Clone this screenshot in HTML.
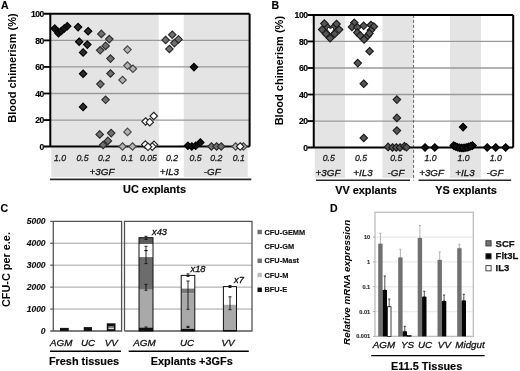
<!DOCTYPE html>
<html><head><meta charset="utf-8"><style>
html,body{margin:0;padding:0;background:#fff;}
svg{display:block;font-family:"Liberation Sans",sans-serif;will-change:transform;}
</style></head><body>
<svg width="520" height="371" viewBox="0 0 520 371">
<rect width="520" height="371" fill="#fff"/>
<rect x="50.3" y="13.85" width="199.3" height="132.75" fill="#e4e4e4"/>
<rect x="158.75" y="13.85" width="25" height="132.75" fill="#fff"/>
<rect x="51.3" y="147.5" width="196.4" height="29.5" fill="#e4e4e4"/>
<rect x="158.75" y="147.5" width="25" height="29.5" fill="#fff"/>
<line x1="50.3" y1="120.05" x2="249.6" y2="120.05" stroke="#9a9a9a" stroke-width="1.3"/>
<line x1="50.3" y1="93.50" x2="249.6" y2="93.50" stroke="#9a9a9a" stroke-width="1.3"/>
<line x1="50.3" y1="66.95" x2="249.6" y2="66.95" stroke="#9a9a9a" stroke-width="1.3"/>
<line x1="50.3" y1="40.40" x2="249.6" y2="40.40" stroke="#9a9a9a" stroke-width="1.3"/>
<path d="M44 13.85H249.6M50.3 13.85V146.6M44 146.6H249.6M249.6 13.85V146.6" stroke="#000" stroke-width="2" fill="none"/>
<line x1="44" y1="120.05" x2="50.3" y2="120.05" stroke="#000" stroke-width="1.8"/>
<line x1="44" y1="93.50" x2="50.3" y2="93.50" stroke="#000" stroke-width="1.8"/>
<line x1="44" y1="66.95" x2="50.3" y2="66.95" stroke="#000" stroke-width="1.8"/>
<line x1="44" y1="40.40" x2="50.3" y2="40.40" stroke="#000" stroke-width="1.8"/>
<path d="M54.80 24.85L58.55 28.60L54.80 32.35L51.05 28.60Z" fill="#111" stroke="#000" stroke-width="1.1"/>
<path d="M58.50 29.45L62.25 33.20L58.50 36.95L54.75 33.20Z" fill="#111" stroke="#000" stroke-width="1.1"/>
<path d="M61.30 27.25L65.05 31.00L61.30 34.75L57.55 31.00Z" fill="#111" stroke="#000" stroke-width="1.1"/>
<path d="M64.20 24.75L67.95 28.50L64.20 32.25L60.45 28.50Z" fill="#111" stroke="#000" stroke-width="1.1"/>
<path d="M67.20 22.45L70.95 26.20L67.20 29.95L63.45 26.20Z" fill="#111" stroke="#000" stroke-width="1.1"/>
<path d="M78.10 23.35L81.85 27.10L78.10 30.85L74.35 27.10Z" fill="#2a2a2a" stroke="#000" stroke-width="1.1"/>
<path d="M88.10 27.50L91.85 31.25L88.10 35.00L84.35 31.25Z" fill="#2a2a2a" stroke="#000" stroke-width="1.1"/>
<path d="M79.20 38.00L82.95 41.75L79.20 45.50L75.45 41.75Z" fill="#2a2a2a" stroke="#000" stroke-width="1.1"/>
<path d="M87.30 40.85L91.05 44.60L87.30 48.35L83.55 44.60Z" fill="#2a2a2a" stroke="#000" stroke-width="1.1"/>
<path d="M83.10 48.75L86.85 52.50L83.10 56.25L79.35 52.50Z" fill="#2a2a2a" stroke="#000" stroke-width="1.1"/>
<path d="M83.10 70.00L86.85 73.75L83.10 77.50L79.35 73.75Z" fill="#2a2a2a" stroke="#000" stroke-width="1.1"/>
<path d="M83.10 103.15L86.85 106.90L83.10 110.65L79.35 106.90Z" fill="#2a2a2a" stroke="#000" stroke-width="1.1"/>
<path d="M101.40 30.15L105.15 33.90L101.40 37.65L97.65 33.90Z" fill="#707070" stroke="#2a2a2a" stroke-width="1.1"/>
<path d="M109.30 35.35L113.05 39.10L109.30 42.85L105.55 39.10Z" fill="#707070" stroke="#2a2a2a" stroke-width="1.1"/>
<path d="M105.60 42.15L109.35 45.90L105.60 49.65L101.85 45.90Z" fill="#707070" stroke="#2a2a2a" stroke-width="1.1"/>
<path d="M100.20 46.55L103.95 50.30L100.20 54.05L96.45 50.30Z" fill="#707070" stroke="#2a2a2a" stroke-width="1.1"/>
<path d="M110.50 54.85L114.25 58.60L110.50 62.35L106.75 58.60Z" fill="#707070" stroke="#2a2a2a" stroke-width="1.1"/>
<path d="M110.50 69.75L114.25 73.50L110.50 77.25L106.75 73.50Z" fill="#707070" stroke="#2a2a2a" stroke-width="1.1"/>
<path d="M100.40 80.35L104.15 84.10L100.40 87.85L96.65 84.10Z" fill="#707070" stroke="#2a2a2a" stroke-width="1.1"/>
<path d="M105.60 96.05L109.35 99.80L105.60 103.55L101.85 99.80Z" fill="#707070" stroke="#2a2a2a" stroke-width="1.1"/>
<path d="M99.70 130.65L103.45 134.40L99.70 138.15L95.95 134.40Z" fill="#707070" stroke="#2a2a2a" stroke-width="1.1"/>
<path d="M111.20 129.35L114.95 133.10L111.20 136.85L107.45 133.10Z" fill="#707070" stroke="#2a2a2a" stroke-width="1.1"/>
<path d="M107.90 137.15L111.65 140.90L107.90 144.65L104.15 140.90Z" fill="#707070" stroke="#2a2a2a" stroke-width="1.1"/>
<path d="M103.10 141.25L106.85 145.00L103.10 148.75L99.35 145.00Z" fill="#707070" stroke="#2a2a2a" stroke-width="1.1"/>
<path d="M127.50 45.85L131.25 49.60L127.50 53.35L123.75 49.60Z" fill="#b2b2b2" stroke="#444" stroke-width="1.1"/>
<path d="M127.50 61.85L131.25 65.60L127.50 69.35L123.75 65.60Z" fill="#b2b2b2" stroke="#444" stroke-width="1.1"/>
<path d="M132.90 65.00L136.65 68.75L132.90 72.50L129.15 68.75Z" fill="#b2b2b2" stroke="#444" stroke-width="1.1"/>
<path d="M122.50 76.25L126.25 80.00L122.50 83.75L118.75 80.00Z" fill="#b2b2b2" stroke="#444" stroke-width="1.1"/>
<path d="M127.50 128.15L131.25 131.90L127.50 135.65L123.75 131.90Z" fill="#b2b2b2" stroke="#444" stroke-width="1.1"/>
<path d="M122.50 142.75L126.25 146.50L122.50 150.25L118.75 146.50Z" fill="#b2b2b2" stroke="#444" stroke-width="1.1"/>
<path d="M132.50 142.75L136.25 146.50L132.50 150.25L128.75 146.50Z" fill="#b2b2b2" stroke="#444" stroke-width="1.1"/>
<path d="M145.60 117.75L149.35 121.50L145.60 125.25L141.85 121.50Z" fill="#fff" stroke="#222" stroke-width="1.1"/>
<path d="M149.75 118.45L153.50 122.20L149.75 125.95L146.00 122.20Z" fill="#fff" stroke="#222" stroke-width="1.1"/>
<path d="M153.75 112.25L157.50 116.00L153.75 119.75L150.00 116.00Z" fill="#fff" stroke="#222" stroke-width="1.1"/>
<path d="M145.30 140.85L149.05 144.60L145.30 148.35L141.55 144.60Z" fill="#fff" stroke="#222" stroke-width="1.1"/>
<path d="M154.00 141.05L157.75 144.80L154.00 148.55L150.25 144.80Z" fill="#fff" stroke="#222" stroke-width="1.1"/>
<path d="M152.30 142.85L156.05 146.60L152.30 150.35L148.55 146.60Z" fill="#fff" stroke="#222" stroke-width="1.1"/>
<path d="M148.00 143.05L151.75 146.80L148.00 150.55L144.25 146.80Z" fill="#fff" stroke="#222" stroke-width="1.1"/>
<path d="M172.25 31.00L176.00 34.75L172.25 38.50L168.50 34.75Z" fill="#707070" stroke="#2a2a2a" stroke-width="1.1"/>
<path d="M165.60 36.25L169.35 40.00L165.60 43.75L161.85 40.00Z" fill="#707070" stroke="#2a2a2a" stroke-width="1.1"/>
<path d="M178.50 35.65L182.25 39.40L178.50 43.15L174.75 39.40Z" fill="#707070" stroke="#2a2a2a" stroke-width="1.1"/>
<path d="M174.40 39.35L178.15 43.10L174.40 46.85L170.65 43.10Z" fill="#707070" stroke="#2a2a2a" stroke-width="1.1"/>
<path d="M169.40 45.25L173.15 49.00L169.40 52.75L165.65 49.00Z" fill="#707070" stroke="#2a2a2a" stroke-width="1.1"/>
<path d="M194.00 63.35L197.75 67.10L194.00 70.85L190.25 67.10Z" fill="#111" stroke="#000" stroke-width="1.1"/>
<path d="M187.90 142.05L191.65 145.80L187.90 149.55L184.15 145.80Z" fill="#111" stroke="#000" stroke-width="1.1"/>
<path d="M191.80 142.75L195.55 146.50L191.80 150.25L188.05 146.50Z" fill="#111" stroke="#000" stroke-width="1.1"/>
<path d="M195.70 142.05L199.45 145.80L195.70 149.55L191.95 145.80Z" fill="#111" stroke="#000" stroke-width="1.1"/>
<path d="M200.30 138.75L204.05 142.50L200.30 146.25L196.55 142.50Z" fill="#111" stroke="#000" stroke-width="1.1"/>
<path d="M211.40 142.75L215.15 146.50L211.40 150.25L207.65 146.50Z" fill="#707070" stroke="#2a2a2a" stroke-width="1.1"/>
<path d="M216.60 142.75L220.35 146.50L216.60 150.25L212.85 146.50Z" fill="#707070" stroke="#2a2a2a" stroke-width="1.1"/>
<path d="M221.20 142.75L224.95 146.50L221.20 150.25L217.45 146.50Z" fill="#707070" stroke="#2a2a2a" stroke-width="1.1"/>
<path d="M235.60 142.75L239.35 146.50L235.60 150.25L231.85 146.50Z" fill="#b2b2b2" stroke="#444" stroke-width="1.1"/>
<path d="M243.40 142.75L247.15 146.50L243.40 150.25L239.65 146.50Z" fill="#b2b2b2" stroke="#444" stroke-width="1.1"/>
<path d="M240.20 142.75L243.95 146.50L240.20 150.25L236.45 146.50Z" fill="#fff" stroke="#222" stroke-width="1.1"/>
<text x="43.9" y="149.70" font-size="8.6" font-weight="bold" font-style="normal" text-anchor="end" fill="#000" stroke="#000" stroke-width="0.15" letter-spacing="-0.45">0</text>
<text x="43.9" y="123.15" font-size="8.6" font-weight="bold" font-style="normal" text-anchor="end" fill="#000" stroke="#000" stroke-width="0.15" letter-spacing="-0.45">20</text>
<text x="43.9" y="96.60" font-size="8.6" font-weight="bold" font-style="normal" text-anchor="end" fill="#000" stroke="#000" stroke-width="0.15" letter-spacing="-0.45">40</text>
<text x="43.9" y="70.05" font-size="8.6" font-weight="bold" font-style="normal" text-anchor="end" fill="#000" stroke="#000" stroke-width="0.15" letter-spacing="-0.45">60</text>
<text x="43.9" y="43.50" font-size="8.6" font-weight="bold" font-style="normal" text-anchor="end" fill="#000" stroke="#000" stroke-width="0.15" letter-spacing="-0.45">80</text>
<text x="43.9" y="16.95" font-size="8.6" font-weight="bold" font-style="normal" text-anchor="end" fill="#000" stroke="#000" stroke-width="0.15" letter-spacing="-0.45">100</text>
<text x="0.9" y="8.7" font-size="10.5" font-weight="bold" font-style="normal" text-anchor="start" fill="#000" stroke="#000" stroke-width="0.15" >A</text>
<text transform="translate(15.95 68.1) rotate(-90)" font-size="11" font-weight="bold" text-anchor="middle">Blood chimerism (%)</text>
<text x="60" y="161.0" font-size="8.7" font-weight="normal" font-style="italic" text-anchor="middle" fill="#222" stroke="#222" stroke-width="0.3" >1.0</text>
<text x="82.5" y="161.0" font-size="8.7" font-weight="normal" font-style="italic" text-anchor="middle" fill="#222" stroke="#222" stroke-width="0.3" >0.5</text>
<text x="104" y="161.0" font-size="8.7" font-weight="normal" font-style="italic" text-anchor="middle" fill="#222" stroke="#222" stroke-width="0.3" >0.2</text>
<text x="127" y="161.0" font-size="8.7" font-weight="normal" font-style="italic" text-anchor="middle" fill="#222" stroke="#222" stroke-width="0.3" >0.1</text>
<text x="148.5" y="161.0" font-size="8.7" font-weight="normal" font-style="italic" text-anchor="middle" fill="#222" stroke="#222" stroke-width="0.3" >0.05</text>
<text x="172" y="161.0" font-size="8.7" font-weight="normal" font-style="italic" text-anchor="middle" fill="#222" stroke="#222" stroke-width="0.3" >0.2</text>
<text x="195.6" y="161.0" font-size="8.7" font-weight="normal" font-style="italic" text-anchor="middle" fill="#222" stroke="#222" stroke-width="0.3" >0.5</text>
<text x="216.25" y="161.0" font-size="8.7" font-weight="normal" font-style="italic" text-anchor="middle" fill="#222" stroke="#222" stroke-width="0.3" >0.2</text>
<text x="238.75" y="161.0" font-size="8.7" font-weight="normal" font-style="italic" text-anchor="middle" fill="#222" stroke="#222" stroke-width="0.3" >0.1</text>
<text x="102" y="175.3" font-size="9.8" font-weight="normal" font-style="italic" text-anchor="middle" fill="#111" stroke="#111" stroke-width="0.3" >+3GF</text>
<text x="169.4" y="175.3" font-size="9.8" font-weight="normal" font-style="italic" text-anchor="middle" fill="#111" stroke="#111" stroke-width="0.3" >+IL3</text>
<text x="212.25" y="175.3" font-size="9.8" font-weight="normal" font-style="italic" text-anchor="middle" fill="#111" stroke="#111" stroke-width="0.3" >-GF</text>
<line x1="50" y1="179.4" x2="251.3" y2="179.4" stroke="#2a2a2a" stroke-width="1.6"/>
<text x="154.5" y="192.9" font-size="10.9" font-weight="bold" font-style="normal" text-anchor="middle" fill="#000" stroke="#000" stroke-width="0.15" >UC explants</text>
<rect x="313.75" y="14.9" width="31.25" height="132.7" fill="#e4e4e4"/>
<rect x="314.8" y="148.5" width="30.19999999999999" height="29.5" fill="#e4e4e4"/>
<rect x="382.5" y="14.9" width="31.0" height="132.7" fill="#e4e4e4"/>
<rect x="382.5" y="148.5" width="31.0" height="29.5" fill="#e4e4e4"/>
<rect x="450" y="14.9" width="31" height="132.7" fill="#e4e4e4"/>
<rect x="450" y="148.5" width="31" height="29.5" fill="#e4e4e4"/>
<line x1="313.75" y1="121.06" x2="513.2" y2="121.06" stroke="#9a9a9a" stroke-width="1.3"/>
<line x1="313.75" y1="94.52" x2="513.2" y2="94.52" stroke="#9a9a9a" stroke-width="1.3"/>
<line x1="313.75" y1="67.98" x2="513.2" y2="67.98" stroke="#9a9a9a" stroke-width="1.3"/>
<line x1="313.75" y1="41.44" x2="513.2" y2="41.44" stroke="#9a9a9a" stroke-width="1.3"/>
<line x1="413.6" y1="14.9" x2="413.6" y2="180.5" stroke="#555" stroke-width="0.9" stroke-dasharray="3 2"/>
<path d="M307.5 14.9H513.2M313.75 14.9V147.6M307.5 147.6H513.2M513.2 14.9V147.6" stroke="#000" stroke-width="2" fill="none"/>
<line x1="307.5" y1="121.06" x2="313.75" y2="121.06" stroke="#000" stroke-width="1.8"/>
<line x1="307.5" y1="94.52" x2="313.75" y2="94.52" stroke="#000" stroke-width="1.8"/>
<line x1="307.5" y1="67.98" x2="313.75" y2="67.98" stroke="#000" stroke-width="1.8"/>
<line x1="307.5" y1="41.44" x2="313.75" y2="41.44" stroke="#000" stroke-width="1.8"/>
<path d="M327.50 23.75L331.25 27.50L327.50 31.25L323.75 27.50Z" fill="#575757" stroke="#1a1a1a" stroke-width="1.1"/>
<path d="M333.50 23.75L337.25 27.50L333.50 31.25L329.75 27.50Z" fill="#575757" stroke="#1a1a1a" stroke-width="1.1"/>
<path d="M330.30 30.25L334.05 34.00L330.30 37.75L326.55 34.00Z" fill="#575757" stroke="#1a1a1a" stroke-width="1.1"/>
<path d="M324.40 19.85L328.15 23.60L324.40 27.35L320.65 23.60Z" fill="#575757" stroke="#1a1a1a" stroke-width="1.1"/>
<path d="M336.50 20.25L340.25 24.00L336.50 27.75L332.75 24.00Z" fill="#575757" stroke="#1a1a1a" stroke-width="1.1"/>
<path d="M322.20 25.85L325.95 29.60L322.20 33.35L318.45 29.60Z" fill="#575757" stroke="#1a1a1a" stroke-width="1.1"/>
<path d="M339.10 25.85L342.85 29.60L339.10 33.35L335.35 29.60Z" fill="#575757" stroke="#1a1a1a" stroke-width="1.1"/>
<path d="M326.10 30.15L329.85 33.90L326.10 37.65L322.35 33.90Z" fill="#575757" stroke="#1a1a1a" stroke-width="1.1"/>
<path d="M334.60 30.15L338.35 33.90L334.60 37.65L330.85 33.90Z" fill="#575757" stroke="#1a1a1a" stroke-width="1.1"/>
<path d="M330.10 34.45L333.85 38.20L330.10 41.95L326.35 38.20Z" fill="#575757" stroke="#1a1a1a" stroke-width="1.1"/>
<path d="M354.30 19.05L358.05 22.80L354.30 26.55L350.55 22.80Z" fill="#575757" stroke="#1a1a1a" stroke-width="1.1"/>
<path d="M352.00 23.15L355.75 26.90L352.00 30.65L348.25 26.90Z" fill="#575757" stroke="#1a1a1a" stroke-width="1.1"/>
<path d="M357.30 23.55L361.05 27.30L357.30 31.05L353.55 27.30Z" fill="#575757" stroke="#1a1a1a" stroke-width="1.1"/>
<path d="M363.70 22.05L367.45 25.80L363.70 29.55L359.95 25.80Z" fill="#575757" stroke="#1a1a1a" stroke-width="1.1"/>
<path d="M370.90 21.25L374.65 25.00L370.90 28.75L367.15 25.00Z" fill="#575757" stroke="#1a1a1a" stroke-width="1.1"/>
<path d="M373.90 22.85L377.65 26.60L373.90 30.35L370.15 26.60Z" fill="#575757" stroke="#1a1a1a" stroke-width="1.1"/>
<path d="M370.90 26.55L374.65 30.30L370.90 34.05L367.15 30.30Z" fill="#575757" stroke="#1a1a1a" stroke-width="1.1"/>
<path d="M357.30 28.85L361.05 32.60L357.30 36.35L353.55 32.60Z" fill="#575757" stroke="#1a1a1a" stroke-width="1.1"/>
<path d="M360.30 31.85L364.05 35.60L360.30 39.35L356.55 35.60Z" fill="#575757" stroke="#1a1a1a" stroke-width="1.1"/>
<path d="M364.10 35.65L367.85 39.40L364.10 43.15L360.35 39.40Z" fill="#575757" stroke="#1a1a1a" stroke-width="1.1"/>
<path d="M367.90 31.85L371.65 35.60L367.90 39.35L364.15 35.60Z" fill="#575757" stroke="#1a1a1a" stroke-width="1.1"/>
<path d="M369.40 29.65L373.15 33.40L369.40 37.15L365.65 33.40Z" fill="#575757" stroke="#1a1a1a" stroke-width="1.1"/>
<path d="M369.60 47.50L373.35 51.25L369.60 55.00L365.85 51.25Z" fill="#575757" stroke="#1a1a1a" stroke-width="1.1"/>
<path d="M357.75 59.35L361.50 63.10L357.75 66.85L354.00 63.10Z" fill="#575757" stroke="#1a1a1a" stroke-width="1.1"/>
<path d="M363.75 80.00L367.50 83.75L363.75 87.50L360.00 83.75Z" fill="#575757" stroke="#1a1a1a" stroke-width="1.1"/>
<path d="M363.75 134.25L367.50 138.00L363.75 141.75L360.00 138.00Z" fill="#575757" stroke="#1a1a1a" stroke-width="1.1"/>
<path d="M396.90 95.85L400.65 99.60L396.90 103.35L393.15 99.60Z" fill="#575757" stroke="#1a1a1a" stroke-width="1.1"/>
<path d="M396.90 114.15L400.65 117.90L396.90 121.65L393.15 117.90Z" fill="#575757" stroke="#1a1a1a" stroke-width="1.1"/>
<path d="M396.90 126.85L400.65 130.60L396.90 134.35L393.15 130.60Z" fill="#575757" stroke="#1a1a1a" stroke-width="1.1"/>
<path d="M388.10 143.15L391.85 146.90L388.10 150.65L384.35 146.90Z" fill="#575757" stroke="#1a1a1a" stroke-width="1.1"/>
<path d="M392.50 143.75L396.25 147.50L392.50 151.25L388.75 147.50Z" fill="#575757" stroke="#1a1a1a" stroke-width="1.1"/>
<path d="M396.25 143.75L400.00 147.50L396.25 151.25L392.50 147.50Z" fill="#575757" stroke="#1a1a1a" stroke-width="1.1"/>
<path d="M400.00 143.75L403.75 147.50L400.00 151.25L396.25 147.50Z" fill="#575757" stroke="#1a1a1a" stroke-width="1.1"/>
<path d="M404.40 142.50L408.15 146.25L404.40 150.00L400.65 146.25Z" fill="#575757" stroke="#1a1a1a" stroke-width="1.1"/>
<path d="M406.50 143.55L410.25 147.30L406.50 151.05L402.75 147.30Z" fill="#575757" stroke="#1a1a1a" stroke-width="1.1"/>
<path d="M425.00 143.75L428.75 147.50L425.00 151.25L421.25 147.50Z" fill="#111" stroke="#000" stroke-width="1.1"/>
<path d="M434.75 143.75L438.50 147.50L434.75 151.25L431.00 147.50Z" fill="#111" stroke="#000" stroke-width="1.1"/>
<path d="M463.10 123.35L466.85 127.10L463.10 130.85L459.35 127.10Z" fill="#111" stroke="#000" stroke-width="1.1"/>
<path d="M453.75 141.85L457.50 145.60L453.75 149.35L450.00 145.60Z" fill="#111" stroke="#000" stroke-width="1.1"/>
<path d="M457.50 143.55L461.25 147.30L457.50 151.05L453.75 147.30Z" fill="#111" stroke="#000" stroke-width="1.1"/>
<path d="M461.25 144.25L465.00 148.00L461.25 151.75L457.50 148.00Z" fill="#111" stroke="#000" stroke-width="1.1"/>
<path d="M465.00 144.00L468.75 147.75L465.00 151.50L461.25 147.75Z" fill="#111" stroke="#000" stroke-width="1.1"/>
<path d="M468.75 143.15L472.50 146.90L468.75 150.65L465.00 146.90Z" fill="#111" stroke="#000" stroke-width="1.1"/>
<path d="M472.50 141.85L476.25 145.60L472.50 149.35L468.75 145.60Z" fill="#111" stroke="#000" stroke-width="1.1"/>
<path d="M455.50 142.75L459.25 146.50L455.50 150.25L451.75 146.50Z" fill="#111" stroke="#000" stroke-width="1.1"/>
<path d="M459.40 143.95L463.15 147.70L459.40 151.45L455.65 147.70Z" fill="#111" stroke="#000" stroke-width="1.1"/>
<path d="M463.10 144.25L466.85 148.00L463.10 151.75L459.35 148.00Z" fill="#111" stroke="#000" stroke-width="1.1"/>
<path d="M467.00 143.65L470.75 147.40L467.00 151.15L463.25 147.40Z" fill="#111" stroke="#000" stroke-width="1.1"/>
<path d="M470.60 142.55L474.35 146.30L470.60 150.05L466.85 146.30Z" fill="#111" stroke="#000" stroke-width="1.1"/>
<path d="M487.20 143.75L490.95 147.50L487.20 151.25L483.45 147.50Z" fill="#111" stroke="#000" stroke-width="1.1"/>
<path d="M495.70 143.75L499.45 147.50L495.70 151.25L491.95 147.50Z" fill="#111" stroke="#000" stroke-width="1.1"/>
<path d="M505.60 143.75L509.35 147.50L505.60 151.25L501.85 147.50Z" fill="#111" stroke="#000" stroke-width="1.1"/>
<path d="M327.7 27.2L330.5 28.4L333.3 27.2L333.7 29.8L330.5 33.8L327.3 29.8Z" fill="#fff" stroke="#1a1a1a" stroke-width="0.9"/>
<text x="307.6" y="150.70" font-size="8.6" font-weight="bold" font-style="normal" text-anchor="end" fill="#000" stroke="#000" stroke-width="0.15" letter-spacing="-0.45">0</text>
<text x="307.6" y="124.16" font-size="8.6" font-weight="bold" font-style="normal" text-anchor="end" fill="#000" stroke="#000" stroke-width="0.15" letter-spacing="-0.45">20</text>
<text x="307.6" y="97.62" font-size="8.6" font-weight="bold" font-style="normal" text-anchor="end" fill="#000" stroke="#000" stroke-width="0.15" letter-spacing="-0.45">40</text>
<text x="307.6" y="71.08" font-size="8.6" font-weight="bold" font-style="normal" text-anchor="end" fill="#000" stroke="#000" stroke-width="0.15" letter-spacing="-0.45">60</text>
<text x="307.6" y="44.54" font-size="8.6" font-weight="bold" font-style="normal" text-anchor="end" fill="#000" stroke="#000" stroke-width="0.15" letter-spacing="-0.45">80</text>
<text x="307.6" y="18.00" font-size="8.6" font-weight="bold" font-style="normal" text-anchor="end" fill="#000" stroke="#000" stroke-width="0.15" letter-spacing="-0.45">100</text>
<text x="271.5" y="8.8" font-size="10.5" font-weight="bold" font-style="normal" text-anchor="start" fill="#000" stroke="#000" stroke-width="0.15" >B</text>
<text transform="translate(282.7 70.65) rotate(-90)" font-size="11" font-weight="bold" text-anchor="middle">Blood chimerism (%)</text>
<text x="328.75" y="160.9" font-size="8.7" font-weight="normal" font-style="italic" text-anchor="middle" fill="#222" stroke="#222" stroke-width="0.3" >0.5</text>
<text x="361" y="160.9" font-size="8.7" font-weight="normal" font-style="italic" text-anchor="middle" fill="#222" stroke="#222" stroke-width="0.3" >0.5</text>
<text x="396.25" y="160.9" font-size="8.7" font-weight="normal" font-style="italic" text-anchor="middle" fill="#222" stroke="#222" stroke-width="0.3" >0.5</text>
<text x="430.6" y="160.9" font-size="8.7" font-weight="normal" font-style="italic" text-anchor="middle" fill="#222" stroke="#222" stroke-width="0.3" >1.0</text>
<text x="463.6" y="160.9" font-size="8.7" font-weight="normal" font-style="italic" text-anchor="middle" fill="#222" stroke="#222" stroke-width="0.3" >1.0</text>
<text x="495.7" y="160.9" font-size="8.7" font-weight="normal" font-style="italic" text-anchor="middle" fill="#222" stroke="#222" stroke-width="0.3" >1.0</text>
<text x="328" y="176" font-size="9.8" font-weight="normal" font-style="italic" text-anchor="middle" fill="#111" stroke="#111" stroke-width="0.3" >+3GF</text>
<text x="363" y="176" font-size="9.8" font-weight="normal" font-style="italic" text-anchor="middle" fill="#111" stroke="#111" stroke-width="0.3" >+IL3</text>
<text x="396" y="176" font-size="9.8" font-weight="normal" font-style="italic" text-anchor="middle" fill="#111" stroke="#111" stroke-width="0.3" >-GF</text>
<text x="431.6" y="176" font-size="9.8" font-weight="normal" font-style="italic" text-anchor="middle" fill="#111" stroke="#111" stroke-width="0.3" >+3GF</text>
<text x="465" y="176" font-size="9.8" font-weight="normal" font-style="italic" text-anchor="middle" fill="#111" stroke="#111" stroke-width="0.3" >+IL3</text>
<text x="495" y="176" font-size="9.8" font-weight="normal" font-style="italic" text-anchor="middle" fill="#111" stroke="#111" stroke-width="0.3" >-GF</text>
<line x1="316" y1="180.2" x2="410" y2="180.2" stroke="#2a2a2a" stroke-width="1.6"/>
<line x1="418.5" y1="180.2" x2="511.2" y2="180.2" stroke="#2a2a2a" stroke-width="1.6"/>
<text x="366" y="193.8" font-size="10.9" font-weight="bold" font-style="normal" text-anchor="middle" fill="#000" stroke="#000" stroke-width="0.15" >VV explants</text>
<text x="466" y="193.8" font-size="10.9" font-weight="bold" font-style="normal" text-anchor="middle" fill="#000" stroke="#000" stroke-width="0.15" >YS explants</text>
<line x1="53" y1="309.06" x2="252" y2="309.06" stroke="#a2a2a2" stroke-width="1"/>
<line x1="53" y1="287.12" x2="252" y2="287.12" stroke="#a2a2a2" stroke-width="1"/>
<line x1="53" y1="265.18" x2="252" y2="265.18" stroke="#a2a2a2" stroke-width="1"/>
<line x1="53" y1="243.24" x2="252" y2="243.24" stroke="#a2a2a2" stroke-width="1"/>
<path d="M50.2 221.3H121.6V331.0H50.2M53.3 221.3V331.0M124.5 331.0V221.3H252V331.0H124.5" stroke="#555" stroke-width="1.3" fill="none"/>
<line x1="50.2" y1="309.06" x2="53" y2="309.06" stroke="#555" stroke-width="1.2"/>
<line x1="50.2" y1="287.12" x2="53" y2="287.12" stroke="#555" stroke-width="1.2"/>
<line x1="50.2" y1="265.18" x2="53" y2="265.18" stroke="#555" stroke-width="1.2"/>
<line x1="50.2" y1="243.24" x2="53" y2="243.24" stroke="#555" stroke-width="1.2"/>
<text x="45.6" y="334.00" font-size="8.5" font-weight="bold" font-style="italic" text-anchor="end" fill="#111" stroke="#111" stroke-width="0.15" >0</text>
<text x="45.6" y="312.06" font-size="8.5" font-weight="bold" font-style="italic" text-anchor="end" fill="#111" stroke="#111" stroke-width="0.15" >1000</text>
<text x="45.6" y="290.12" font-size="8.5" font-weight="bold" font-style="italic" text-anchor="end" fill="#111" stroke="#111" stroke-width="0.15" >2000</text>
<text x="45.6" y="268.18" font-size="8.5" font-weight="bold" font-style="italic" text-anchor="end" fill="#111" stroke="#111" stroke-width="0.15" >3000</text>
<text x="45.6" y="246.24" font-size="8.5" font-weight="bold" font-style="italic" text-anchor="end" fill="#111" stroke="#111" stroke-width="0.15" >4000</text>
<text x="45.6" y="224.30" font-size="8.5" font-weight="bold" font-style="italic" text-anchor="end" fill="#111" stroke="#111" stroke-width="0.15" >5000</text>
<text x="0.6" y="211.5" font-size="10.6" font-weight="bold" font-style="normal" text-anchor="start" fill="#000" stroke="#000" stroke-width="0.15" >C</text>
<text transform="translate(10.4 269.6) rotate(-90)" font-size="10.9" font-weight="bold" text-anchor="middle">CFU-C per e.e.</text>
<rect x="60" y="327.9" width="8.75" height="3.1000000000000227" fill="#111"/>
<rect x="83.75" y="327.1" width="8.2" height="3.8999999999999773" fill="#111"/>
<rect x="106.8" y="323.3" width="8.7" height="7.699999999999989" fill="#111"/>
<rect x="108.4" y="326.0" width="5.5" height="1.6000000000000227" fill="#777"/>
<rect x="108.4" y="327.6" width="5.5" height="1.599999999999966" fill="#ddd"/>
<rect x="139" y="237.7" width="14" height="6.5" fill="#5c5c5c"/>
<rect x="139" y="244.2" width="14" height="12.900000000000034" fill="#fff"/>
<rect x="139" y="257.1" width="14" height="32.599999999999966" fill="#6c6c6c"/>
<rect x="139" y="289.7" width="14" height="37.900000000000034" fill="#a9a9a9"/>
<rect x="139" y="327.6" width="14" height="3.3999999999999773" fill="#111"/>
<rect x="139" y="237.7" width="14" height="93.30000000000001" fill="none" stroke="#111" stroke-width="1"/>
<rect x="181.2" y="275.4" width="13.6" height="13.200000000000045" fill="#fff"/>
<rect x="181.2" y="288.6" width="13.6" height="4.699999999999989" fill="#7a7a7a"/>
<rect x="181.2" y="293.3" width="13.6" height="35.5" fill="#a9a9a9"/>
<rect x="181.2" y="328.8" width="13.6" height="2.1999999999999886" fill="#111"/>
<rect x="181.2" y="275.4" width="13.6" height="55.60000000000002" fill="none" stroke="#111" stroke-width="1"/>
<rect x="223.4" y="286.6" width="13.1" height="18.19999999999999" fill="#fff"/>
<rect x="223.4" y="304.8" width="13.1" height="25.19999999999999" fill="#a9a9a9"/>
<rect x="223.4" y="330" width="13.1" height="1" fill="#111"/>
<rect x="223.4" y="286.6" width="13.1" height="44.39999999999998" fill="none" stroke="#111" stroke-width="1"/>
<path d="M146 236.3V239.5M144.5 236.3H147.5M144.5 239.5H147.5" stroke="#111" stroke-width="0.9" fill="none"/>
<path d="M146 246.3V250.6M144.5 246.3H147.5M144.5 250.6H147.5" stroke="#111" stroke-width="0.9" fill="none"/>
<path d="M146 250.6V263.6M144.5 250.6H147.5M144.5 263.6H147.5" stroke="#111" stroke-width="0.9" fill="none"/>
<path d="M146 284.3V290.3M144.5 284.3H147.5M144.5 290.3H147.5" stroke="#111" stroke-width="0.9" fill="none"/>
<path d="M146 327V329M144.5 327H147.5M144.5 329H147.5" stroke="#111" stroke-width="0.9" fill="none"/>
<path d="M188 273.9V276.5M186.5 273.9H189.5M186.5 276.5H189.5" stroke="#111" stroke-width="0.9" fill="none"/>
<path d="M188 281V309.3M186.5 281H189.5M186.5 309.3H189.5" stroke="#111" stroke-width="0.9" fill="none"/>
<path d="M188 326.3V327.5M186.5 326.3H189.5M186.5 327.5H189.5" stroke="#111" stroke-width="0.9" fill="none"/>
<path d="M230 285.5V287.5M228.5 285.5H231.5M228.5 287.5H231.5" stroke="#111" stroke-width="0.9" fill="none"/>
<path d="M230 296.8V309.7M228.5 296.8H231.5M228.5 309.7H231.5" stroke="#111" stroke-width="0.9" fill="none"/>
<text x="152" y="235.3" font-size="9.3" font-weight="normal" font-style="italic" text-anchor="start" fill="#111" stroke="#111" stroke-width="0.3" >x43</text>
<text x="190.5" y="272.3" font-size="9.3" font-weight="normal" font-style="italic" text-anchor="start" fill="#111" stroke="#111" stroke-width="0.3" >x18</text>
<text x="234" y="283.3" font-size="9.3" font-weight="normal" font-style="italic" text-anchor="start" fill="#111" stroke="#111" stroke-width="0.3" >x7</text>
<text x="61.2" y="346" font-size="9.8" font-weight="normal" font-style="italic" text-anchor="middle" fill="#111" stroke="#111" stroke-width="0.3" >AGM</text>
<text x="88" y="346" font-size="9.8" font-weight="normal" font-style="italic" text-anchor="middle" fill="#111" stroke="#111" stroke-width="0.3" >UC</text>
<text x="111.2" y="346" font-size="9.8" font-weight="normal" font-style="italic" text-anchor="middle" fill="#111" stroke="#111" stroke-width="0.3" >VV</text>
<text x="144.4" y="346" font-size="9.8" font-weight="normal" font-style="italic" text-anchor="middle" fill="#111" stroke="#111" stroke-width="0.3" >AGM</text>
<text x="187" y="346" font-size="9.8" font-weight="normal" font-style="italic" text-anchor="middle" fill="#111" stroke="#111" stroke-width="0.3" >UC</text>
<text x="228" y="346" font-size="9.8" font-weight="normal" font-style="italic" text-anchor="middle" fill="#111" stroke="#111" stroke-width="0.3" >VV</text>
<line x1="50" y1="351.2" x2="121" y2="351.2" stroke="#000" stroke-width="1.4"/>
<line x1="128.7" y1="351.2" x2="248.8" y2="351.2" stroke="#000" stroke-width="1.4"/>
<text x="84" y="364.7" font-size="10.9" font-weight="bold" font-style="normal" text-anchor="middle" fill="#000" stroke="#000" stroke-width="0.15" >Fresh tissues</text>
<text x="191.7" y="364.7" font-size="10.9" font-weight="bold" font-style="normal" text-anchor="middle" fill="#000" stroke="#000" stroke-width="0.15" >Explants +3GFs</text>
<rect x="257.5" y="229.8" width="4.4" height="4.4" fill="#707070"/>
<text x="264.5" y="234.60" font-size="7.4" font-weight="bold" font-style="normal" text-anchor="start" fill="#111" stroke="#111" stroke-width="0.15" >CFU-GEMM</text>
<rect x="257.5" y="244.05" width="4.4" height="4.4" fill="#fff"/>
<text x="264.5" y="248.85" font-size="7.4" font-weight="bold" font-style="normal" text-anchor="start" fill="#111" stroke="#111" stroke-width="0.15" >CFU-GM</text>
<rect x="257.5" y="258.55" width="4.4" height="4.4" fill="#707070"/>
<text x="264.5" y="263.35" font-size="7.4" font-weight="bold" font-style="normal" text-anchor="start" fill="#111" stroke="#111" stroke-width="0.15" >CFU-Mast</text>
<rect x="257.5" y="272.8" width="4.4" height="4.4" fill="#bdbdbd"/>
<text x="264.5" y="277.60" font-size="7.4" font-weight="bold" font-style="normal" text-anchor="start" fill="#111" stroke="#111" stroke-width="0.15" >CFU-M</text>
<rect x="257.5" y="287.55" width="4.4" height="4.4" fill="#111"/>
<text x="264.5" y="292.35" font-size="7.4" font-weight="bold" font-style="normal" text-anchor="start" fill="#111" stroke="#111" stroke-width="0.15" >BFU-E</text>
<line x1="375" y1="311.58" x2="473.3" y2="311.58" stroke="#ececec" stroke-width="1.3"/>
<line x1="375" y1="286.76" x2="473.3" y2="286.76" stroke="#ececec" stroke-width="1.3"/>
<line x1="375" y1="261.94" x2="473.3" y2="261.94" stroke="#ececec" stroke-width="1.3"/>
<line x1="375" y1="237.12" x2="473.3" y2="237.12" stroke="#ececec" stroke-width="1.3"/>
<rect x="375" y="212.3" width="98.30000000000001" height="124.09999999999997" fill="none" stroke="#bdbdbd" stroke-width="1.3"/>
<text x="370.2" y="239.12" font-size="5.6" font-weight="bold" font-style="normal" text-anchor="end" fill="#333" stroke="#333" stroke-width="0.15" >10</text>
<line x1="373" y1="237.12" x2="375" y2="237.12" stroke="#999" stroke-width="0.8"/>
<text x="370.2" y="263.94" font-size="5.6" font-weight="bold" font-style="normal" text-anchor="end" fill="#333" stroke="#333" stroke-width="0.15" >1</text>
<line x1="373" y1="261.94" x2="375" y2="261.94" stroke="#999" stroke-width="0.8"/>
<text x="370.2" y="288.76" font-size="5.6" font-weight="bold" font-style="normal" text-anchor="end" fill="#333" stroke="#333" stroke-width="0.15" >0.1</text>
<line x1="373" y1="286.76" x2="375" y2="286.76" stroke="#999" stroke-width="0.8"/>
<text x="370.2" y="313.58" font-size="5.6" font-weight="bold" font-style="normal" text-anchor="end" fill="#333" stroke="#333" stroke-width="0.15" >0.01</text>
<line x1="373" y1="311.58" x2="375" y2="311.58" stroke="#999" stroke-width="0.8"/>
<text x="370.2" y="338.40" font-size="5.6" font-weight="bold" font-style="normal" text-anchor="end" fill="#333" stroke="#333" stroke-width="0.15" >0.001</text>
<line x1="373" y1="336.40" x2="375" y2="336.40" stroke="#999" stroke-width="0.8"/>
<text x="329.9" y="211.6" font-size="10.5" font-weight="bold" font-style="normal" text-anchor="start" fill="#000" stroke="#000" stroke-width="0.15" >D</text>
<text transform="translate(349.6 282.4) rotate(-90)" font-size="9.87" font-weight="bold" font-style="italic" text-anchor="middle">Relative mRNA expression</text>
<path d="M380.4 233.3V243.75M379.29999999999995 233.3H381.5M379.29999999999995 243.75H381.5" stroke="#a0a0a0" stroke-width="0.8" fill="none"/>
<rect x="378.2" y="243.75" width="4.4" height="92.64999999999998" fill="#707070"/>
<path d="M384.8 276V290M383.7 276H385.90000000000003M383.7 290H385.90000000000003" stroke="#222" stroke-width="0.8" fill="none"/>
<rect x="382.59999999999997" y="290" width="4.4" height="46.39999999999998" fill="#050505"/>
<path d="M389.2 299V306.75M388.09999999999997 299H390.3M388.09999999999997 306.75H390.3" stroke="#222" stroke-width="0.8" fill="none"/>
<rect x="387.4" y="306.75" width="3.6000000000000005" height="29.649999999999977" fill="#fff" stroke="#111" stroke-width="0.8"/>
<path d="M400.4 249.25V257.5M399.29999999999995 249.25H401.5M399.29999999999995 257.5H401.5" stroke="#a0a0a0" stroke-width="0.8" fill="none"/>
<rect x="398.2" y="257.5" width="4.4" height="78.89999999999998" fill="#707070"/>
<path d="M404.8 326.3V331.3M403.7 326.3H405.90000000000003M403.7 331.3H405.90000000000003" stroke="#222" stroke-width="0.8" fill="none"/>
<rect x="402.59999999999997" y="331.3" width="4.4" height="5.099999999999966" fill="#050505"/>
<rect x="407.4" y="335.5" width="3.6000000000000005" height="0.8999999999999773" fill="#fff" stroke="#111" stroke-width="0.8"/>
<path d="M419.9 225.5V238M418.79999999999995 225.5H421.0M418.79999999999995 238H421.0" stroke="#a0a0a0" stroke-width="0.8" fill="none"/>
<rect x="417.7" y="238" width="4.4" height="98.39999999999998" fill="#707070"/>
<path d="M424.3 291.25V296.75M423.2 291.25H425.40000000000003M423.2 296.75H425.40000000000003" stroke="#222" stroke-width="0.8" fill="none"/>
<rect x="422.09999999999997" y="296.75" width="4.4" height="39.64999999999998" fill="#050505"/>
<path d="M439.7 252V260M438.59999999999997 252H440.8M438.59999999999997 260H440.8" stroke="#a0a0a0" stroke-width="0.8" fill="none"/>
<rect x="437.5" y="260" width="4.4" height="76.39999999999998" fill="#707070"/>
<path d="M444.1 295V301M443.0 295H445.20000000000005M443.0 301H445.20000000000005" stroke="#222" stroke-width="0.8" fill="none"/>
<rect x="441.9" y="301" width="4.4" height="35.39999999999998" fill="#050505"/>
<path d="M459.4 244.25V248.25M458.29999999999995 244.25H460.5M458.29999999999995 248.25H460.5" stroke="#a0a0a0" stroke-width="0.8" fill="none"/>
<rect x="457.2" y="248.25" width="4.4" height="88.14999999999998" fill="#707070"/>
<path d="M463.8 294.25V300.5M462.7 294.25H464.90000000000003M462.7 300.5H464.90000000000003" stroke="#222" stroke-width="0.8" fill="none"/>
<rect x="461.59999999999997" y="300.5" width="4.4" height="35.89999999999998" fill="#050505"/>
<rect x="485.9" y="240.75" width="5.2" height="5.2" fill="#747474" stroke="#333" stroke-width="0.9"/>
<text x="495.6" y="247.2" font-size="9.5" font-weight="bold" font-style="normal" text-anchor="start" fill="#111" stroke="#111" stroke-width="0.25" >SCF</text>
<rect x="485.9" y="253.70" width="5.2" height="5.2" fill="#000" stroke="#333" stroke-width="0.9"/>
<text x="495.6" y="259.1" font-size="9.5" font-weight="bold" font-style="normal" text-anchor="start" fill="#111" stroke="#111" stroke-width="0.25" >Flt3L</text>
<rect x="485.9" y="265.65" width="5.2" height="5.2" fill="#fff" stroke="#333" stroke-width="0.9"/>
<text x="495.6" y="271.0" font-size="9.5" font-weight="bold" font-style="normal" text-anchor="start" fill="#111" stroke="#111" stroke-width="0.25" >IL3</text>
<text x="384" y="348.1" font-size="9.8" font-weight="normal" font-style="italic" text-anchor="middle" fill="#111" stroke="#111" stroke-width="0.3" >AGM</text>
<text x="407.5" y="348.1" font-size="9.8" font-weight="normal" font-style="italic" text-anchor="middle" fill="#111" stroke="#111" stroke-width="0.3" >YS</text>
<text x="425" y="348.1" font-size="9.8" font-weight="normal" font-style="italic" text-anchor="middle" fill="#111" stroke="#111" stroke-width="0.3" >UC</text>
<text x="444.4" y="348.1" font-size="9.8" font-weight="normal" font-style="italic" text-anchor="middle" fill="#111" stroke="#111" stroke-width="0.3" >VV</text>
<text x="470" y="348.1" font-size="9.8" font-weight="normal" font-style="italic" text-anchor="middle" fill="#111" stroke="#111" stroke-width="0.3" >Midgut</text>
<line x1="371.2" y1="355.6" x2="484.6" y2="355.6" stroke="#000" stroke-width="1.4"/>
<text x="426.6" y="369.8" font-size="10.9" font-weight="bold" font-style="normal" text-anchor="middle" fill="#000" stroke="#000" stroke-width="0.15" >E11.5 Tissues</text>
</svg>
</body></html>
